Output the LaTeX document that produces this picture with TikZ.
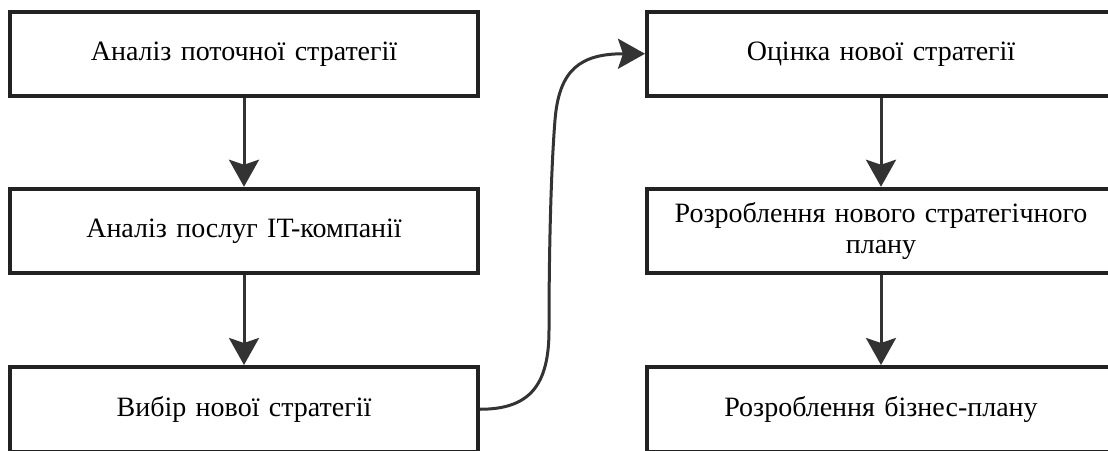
\documentclass[tikz,border=0pt]{standalone}
\usepackage{fontspec}
\setmainfont{Liberation Serif}
\usetikzlibrary{arrows.meta}
\definecolor{boxc}{HTML}{222222}
\definecolor{arrc}{HTML}{333333}
\begin{document}
\begin{tikzpicture}[x=1pt,y=-1pt,
  box/.style={draw=boxc, line width=4pt, minimum width=468pt, minimum height=84.5pt,
    inner sep=0pt, text width=455pt, align=center,
    font=\fontsize{28}{31}\selectfont},
  conn/.style={draw=arrc, line width=3pt,
    -{Stealth[length=27pt,width=30pt,inset=5pt]}}]
\useasboundingbox (0,0) rectangle (1108,450);
\clip (0,0) rectangle (1108,450);
\fill[white] (0,0) rectangle (1108,450);
\node[box] (a1) at (244,53.75) {Аналіз поточної стратегії};
\node[box] (a2) at (244,231) {Аналіз послуг IT-компанії};
\node[box] (a3) at (244,409.25) {Вибір нової стратегії};
\node[box] (b1) at (881,53.75) {Оцінка нової стратегії};
\node[box] (b2) at (881,231) {Розроблення нового стратегічного\\плану};
\node[box] (b3) at (881,409.25) {Розроблення бізнес-плану};
\draw[conn] (a1.south) -- (a2.north);
\draw[conn] (a2.south) -- (a3.north);
\draw[conn] (b1.south) -- (b2.north);
\draw[conn] (b2.south) -- (b3.north);
\draw[conn] (a3.east) .. controls (530,409.25) and (549,385) .. (549,330)
  .. controls (549,250) and (551,170) .. (555,120)
  .. controls (559,70) and (580,53.75) .. (b1.west);
\end{tikzpicture}
\end{document}
